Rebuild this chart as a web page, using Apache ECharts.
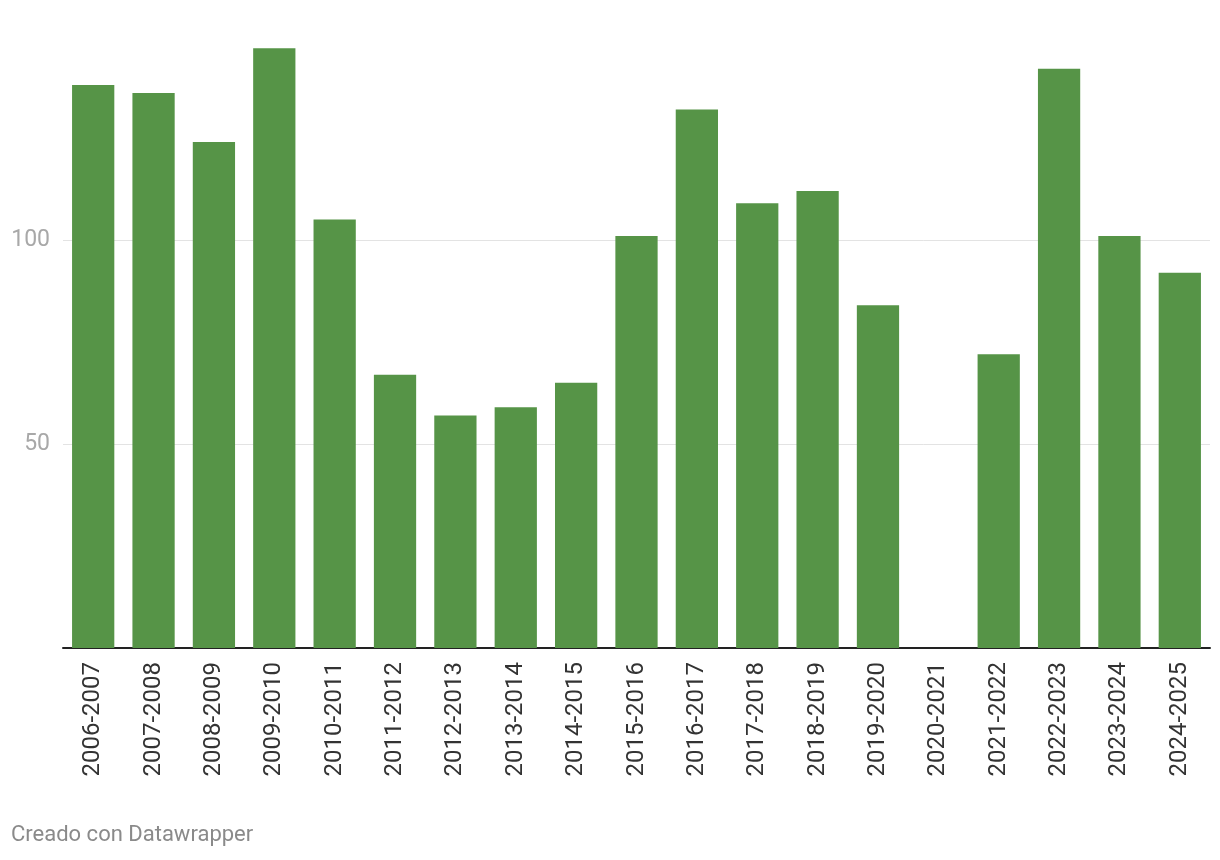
<!DOCTYPE html>
<html>
<head>
<meta charset="utf-8">
<script src="https://cdn.jsdelivr.net/npm/echarts@6/dist/echarts.min.js"></script>
<style>
html,body{margin:0;padding:0;background:#fff;}
#chart{width:1220px;height:860px;}
</style>
</head>
<body>
<div id="chart"></div>
<script>
const categories = ["2006-2007","2007-2008","2008-2009","2009-2010","2010-2011","2011-2012","2012-2013","2013-2014","2014-2015","2015-2016","2016-2017","2017-2018","2018-2019","2019-2020","2020-2021","2021-2022","2022-2023","2023-2024","2024-2025"];
const values = [138, 136, 124, 147, 105, 67, 57, 59, 65, 101, 132, 109, 112, 84, null, 72, 142, 101, 92];
const yTickLabels = {50: "50", 100: "100"};
const footerText = "Creado con Datawrapper";

const chart = echarts.init(document.getElementById('chart'), null, {renderer: 'canvas'});
chart.setOption({
  animation: false,
  backgroundColor: '#ffffff',
  textStyle: {fontFamily: 'Roboto'},
  grid: {left: 63, right: 10, top: 36, bottom: 212, containLabel: false},
  graphic: [{
    type: 'text', left: 11, top: 824,
    style: {text: footerText, fill: '#8a8a8a', font: '22px Roboto'}
  }],
  xAxis: {
    type: 'category',
    data: categories,
    axisLine: {show: true, lineStyle: {color: '#222', width: 2}},
    axisTick: {show: false},
    axisLabel: {rotate: 90, margin: 14, color: '#333', fontSize: 24, fontFamily: 'Roboto', interval: 0}
  },
  yAxis: {
    type: 'value',
    min: 0, max: 150, interval: 50,
    axisLine: {show: false},
    axisTick: {show: false},
    axisLabel: {
      margin: 13, color: '#a8a8a8', fontSize: 23, fontFamily: 'Roboto',
      formatter: v => yTickLabels[v] || ''
    },
    splitLine: {show: true, lineStyle: {color: ['rgba(0,0,0,0)', '#e3e3e3', '#e3e3e3', 'rgba(0,0,0,0)'], width: 1}}
  },
  series: [{
    type: 'bar',
    data: values,
    barCategoryGap: '30%',
    itemStyle: {color: '#569447'}
  }]
});
</script>
</body>
</html>
